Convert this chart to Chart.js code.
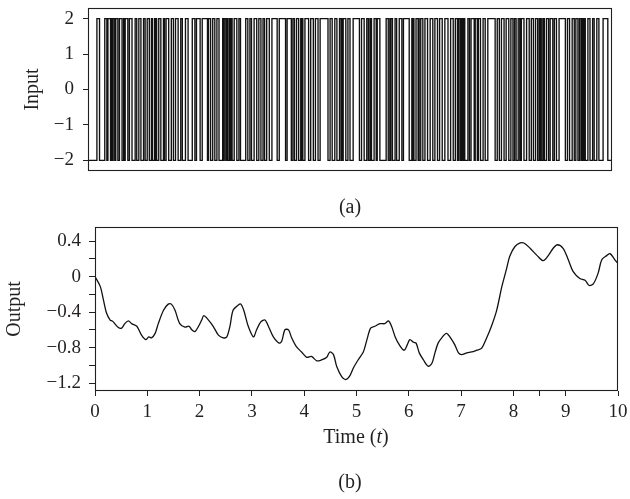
<!DOCTYPE html>
<html>
<head>
<meta charset="utf-8">
<script src="https://cdn.jsdelivr.net/npm/chart.js@4.4.1/dist/chart.umd.min.js"></script>
<style>
html,body{margin:0;padding:0;background:#fff;}
#wrap{position:relative;width:630px;height:499px;overflow:hidden;font-family:'Liberation Serif','Times New Roman',serif;color:#231f20;}
canvas{position:absolute;left:0;}
.cap{position:absolute;text-align:center;font-size:20px;line-height:24px;white-space:nowrap;}
</style>
</head>
<body>
<div id="wrap">
  <canvas id="c1" width="630" height="190" style="top:0px;width:630px;height:190px"></canvas>
  <canvas id="c2" width="630" height="216" style="top:215px;width:630px;height:216px"></canvas>
  <div class="cap" style="left:300px;width:100px;top:194px;">(a)</div>
  <div class="cap" style="left:306px;width:100px;top:424px;">Time (<i>t</i>)</div>
  <div class="cap" style="left:300px;width:100px;top:469px;">(b)</div>
</div>
<script>
// ---------- DATA ----------
// Panel (a): binary input signal, starts at the low level and flips at each switch time
const inputLowLevel = -2;
const inputHighLevel = 2;
const inputEndTime = 10;
const inputSwitchTimes = [
  0.17,0.22,0.32,0.36,0.38,0.43,0.45,0.46,0.48,0.51,0.53,0.57,0.60,0.65,0.68,0.70,0.71,0.76,0.79,0.84,
  0.90,0.93,0.97,1.01,1.06,1.09,1.13,1.17,1.21,1.23,1.27,1.28,1.29,1.31,1.35,1.39,1.44,1.46,1.49,1.54,
  1.59,1.63,1.67,
  1.72,1.77,1.80,1.86,1.91,1.99,2.04,2.07,2.14,2.18,2.28,2.30,2.34,2.38,2.42,2.46,2.50,2.57,2.58,2.60,
  2.63,2.65,2.67,2.70,2.72,2.74,2.75,2.79,2.84,2.88,2.91,3.01,3.05,3.09,3.12,3.17,3.22,3.26,3.30,
  3.34,3.37,3.41,3.46,3.51,3.61,3.65,3.77,3.80,3.88,3.91,3.94,3.98,4.02,4.06,4.07,4.08,4.10,4.14,4.21,
  4.25,4.30,4.34,4.39,4.43,4.58,4.62,4.66,4.71,4.75,4.80,4.83,4.84,4.85,4.87,4.92,4.96,5.00,
  5.06,5.18,5.22,5.27,5.32,5.35,5.38,5.39,5.40,5.41,5.46,5.50,5.52,5.57,5.69,5.73,5.76,5.77,5.78,5.81,
  5.86,5.89,5.94,5.99,6.02,6.13,6.18,6.19,6.20,6.22,6.26,6.30,6.31,6.32,6.35,6.39,6.43,6.48,6.53,6.58,
  6.62,6.67,
  6.71,6.76,6.81,6.87,6.92,6.97,7.01,7.05,7.07,7.10,7.11,7.12,7.14,7.16,7.17,7.19,7.25,7.28,7.31,7.37,
  7.39,7.43,7.45,7.49,7.54,7.58,7.63,7.77,7.81,7.85,7.89,7.94,7.98,8.03,8.07,8.11,8.14,8.17,8.21,8.24,
  8.25,8.26,8.27,8.32,8.37,
  8.42,8.46,8.50,8.54,8.58,8.61,8.62,8.63,8.65,8.68,8.69,8.70,8.71,8.75,8.79,8.82,8.87,8.90,8.94,8.99,
  9.11,9.15,9.19,9.24,9.28,9.31,9.35,9.38,9.41,9.42,9.43,9.45,9.46,9.47,9.49,9.54,9.58,9.63,9.66,9.71,
  9.75,9.83,9.92
];
const inputYTicks = [-2, -1, 0, 1, 2];
const inputYTickLabels = ['\u22122', '\u22121', '0', '1', '2'];

// Panel (b): output response
const outputTime = [
  0,0.10,0.16,0.22,0.29,0.33,0.35,0.44,0.51,0.57,0.64,0.70,0.80,0.89,0.97,1.03,1.08,1.15,1.21,1.31,
  1.40,1.46,1.53,1.62,1.72,1.80,1.85,1.91,1.98,2.04,2.08,2.17,2.26,2.36,2.45,2.52,2.58,2.64,2.74,2.79,
  2.85,2.93,3.03,3.09,3.17,3.25,3.33,3.41,3.52,3.57,3.63,3.70,3.76,3.85,3.95,4.05,4.14,4.24,4.33,4.43,
  4.49,4.56,4.62,4.72,4.80,4.88,4.94,5.03,5.13,5.20,5.27,5.35,5.45,5.54,5.61,5.67,5.74,5.82,5.91,5.97,
  6.02,6.09,6.14,6.20,6.28,6.37,6.44,6.50,6.56,6.63,6.72,6.82,6.88,6.95,7.01,7.11,7.20,7.30,7.39,7.49,
  7.58,7.68,7.78,7.87,7.93,8.03,8.13,8.20,8.32,8.45,8.57,8.67,8.76,8.84,8.95,9.05,9.14,9.27,9.37,9.45,
  9.53,9.62,9.69,9.79,9.85,9.94,10.0
];
const outputValue = [
  0,-0.11,-0.26,-0.41,-0.49,-0.50,-0.51,-0.57,-0.58,-0.53,-0.50,-0.53,-0.56,-0.66,-0.71,-0.68,-0.69,-0.64,-0.53,-0.38,
  -0.31,-0.31,-0.38,-0.53,-0.57,-0.56,-0.60,-0.62,-0.56,-0.49,-0.44,-0.49,-0.56,-0.66,-0.69,-0.68,-0.56,-0.38,-0.32,-0.31,
  -0.39,-0.56,-0.68,-0.60,-0.51,-0.49,-0.58,-0.68,-0.75,-0.73,-0.60,-0.60,-0.69,-0.79,-0.85,-0.91,-0.90,-0.95,-0.94,-0.91,
  -0.85,-0.88,-1.01,-1.13,-1.16,-1.11,-1.03,-0.94,-0.85,-0.71,-0.58,-0.56,-0.53,-0.53,-0.50,-0.56,-0.68,-0.77,-0.83,-0.77,
  -0.71,-0.74,-0.75,-0.86,-0.94,-1.01,-0.98,-0.86,-0.75,-0.69,-0.64,-0.71,-0.77,-0.86,-0.88,-0.86,-0.85,-0.83,-0.81,-0.69,
  -0.56,-0.38,-0.11,0.09,0.23,0.34,0.38,0.38,0.32,0.24,0.18,0.24,0.32,0.36,0.32,0.19,0.06,-0.02,-0.04,-0.10,
  -0.08,0.04,0.19,0.24,0.26,0.19,0.15
];
const outputXTicks = [0, 1, 2, 3, 4, 5, 6, 7, 8, 8.5, 9, 10];
const outputXTickLabels = ['0', '1', '2', '3', '4', '5', '6', '7', '8', '', '9', '10'];
const outputYTicks = [-1.2, -1.0, -0.8, -0.6, -0.4, -0.2, 0, 0.2, 0.4];
const outputYTickLabels = ['\u22121.2', '', '\u22120.8', '', '\u22120.4', '', '0', '', '0.4'];

// ---------- RENDER ----------
const INK = '#231f20';
const FAMILY = "'Liberation Serif', 'Times New Roman', serif";

const framePlugin = {
  id: 'frame',
  afterDatasetsDraw(chart) {
    const {ctx, chartArea: a} = chart;
    ctx.save();
    ctx.strokeStyle = INK;
    ctx.lineWidth = 1.1;
    ctx.strokeRect(a.left + 0.5, a.top + 0.5, a.right - a.left - 1, a.bottom - a.top - 1);
    ctx.restore();
  }
};

function tickSetter(values) {
  return function (scale) { scale.ticks = values.map(v => ({value: v})); };
}
function labelFrom(values, labels) {
  return function (v) {
    const i = values.findIndex(x => Math.abs(x - v) < 1e-9);
    return i >= 0 ? labels[i] : '';
  };
}
function noEdgePadding(s) {
  s.paddingTop = 0; s.paddingBottom = 0; s.paddingLeft = 0; s.paddingRight = 0;
}

// Build the step points for the input signal
const inputPoints = [{x: 0, y: inputLowLevel}];
let level = inputLowLevel;
for (const t of inputSwitchTimes) {
  level = (level === inputLowLevel) ? inputHighLevel : inputLowLevel;
  inputPoints.push({x: t, y: level});
}
inputPoints.push({x: inputEndTime, y: level});

new Chart(document.getElementById('c1'), {
  type: 'line',
  data: {
    datasets: [{
      data: inputPoints,
      stepped: 'before',
      borderColor: '#111',
      borderWidth: 1.35,
      pointRadius: 0,
      fill: false
    }]
  },
  options: {
    responsive: false,
    animation: false,
    devicePixelRatio: 1,
    layout: {padding: {top: 8, right: 18, bottom: 19, left: 0}},
    plugins: {legend: {display: false}, tooltip: {enabled: false}, title: {display: false}},
    scales: {
      x: {type: 'linear', min: 0, max: 10, display: false},
      y: {
        min: -2.3, max: 2.3,
        afterFit(s) { s.width = 88; noEdgePadding(s); },
        afterBuildTicks: tickSetter(inputYTicks),
        ticks: {callback: labelFrom(inputYTicks, inputYTickLabels), autoSkip: false, color: INK,
                font: {family: FAMILY, size: 19}, padding: 9},
        grid: {drawOnChartArea: false, drawTicks: true, tickLength: 5, tickColor: INK, tickWidth: 1},
        border: {display: false},
        title: {display: true, text: 'Input', color: INK, font: {family: FAMILY, size: 20},
                padding: {top: 21, bottom: 0}}
      }
    }
  },
  plugins: [framePlugin]
});

new Chart(document.getElementById('c2'), {
  type: 'line',
  data: {
    datasets: [{
      data: outputTime.map((t, i) => ({x: t, y: outputValue[i]})),
      borderColor: '#111',
      borderWidth: 1.3,
      pointRadius: 0,
      tension: 0.3,
      fill: false
    }]
  },
  options: {
    responsive: false,
    animation: false,
    devicePixelRatio: 1,
    layout: {padding: {top: 12, right: 12, bottom: 0, left: 0}},
    plugins: {legend: {display: false}, tooltip: {enabled: false}, title: {display: false}},
    scales: {
      x: {
        type: 'linear', min: 0, max: 10,
        afterFit(s) { s.height = 40; noEdgePadding(s); },
        afterBuildTicks: tickSetter(outputXTicks),
        ticks: {callback: labelFrom(outputXTicks, outputXTickLabels), autoSkip: false, maxRotation: 0,
                color: INK, font: {family: FAMILY, size: 19}, padding: 5},
        grid: {drawOnChartArea: false, drawTicks: true, tickLength: 5, tickColor: INK, tickWidth: 1},
        border: {display: false}
      },
      y: {
        min: -1.29, max: 0.56,
        afterFit(s) { s.width = 95; noEdgePadding(s); },
        afterBuildTicks: tickSetter(outputYTicks),
        ticks: {callback: labelFrom(outputYTicks, outputYTickLabels), autoSkip: false, color: INK,
                font: {family: FAMILY, size: 19}, padding: 8},
        grid: {drawOnChartArea: false, drawTicks: true, tickLength: 6, tickColor: INK, tickWidth: 1},
        border: {display: false},
        title: {display: true, text: 'Output', color: INK, font: {family: FAMILY, size: 20},
                padding: {top: 3, bottom: 0}}
      }
    }
  },
  plugins: [framePlugin]
});
</script>
</body>
</html>
